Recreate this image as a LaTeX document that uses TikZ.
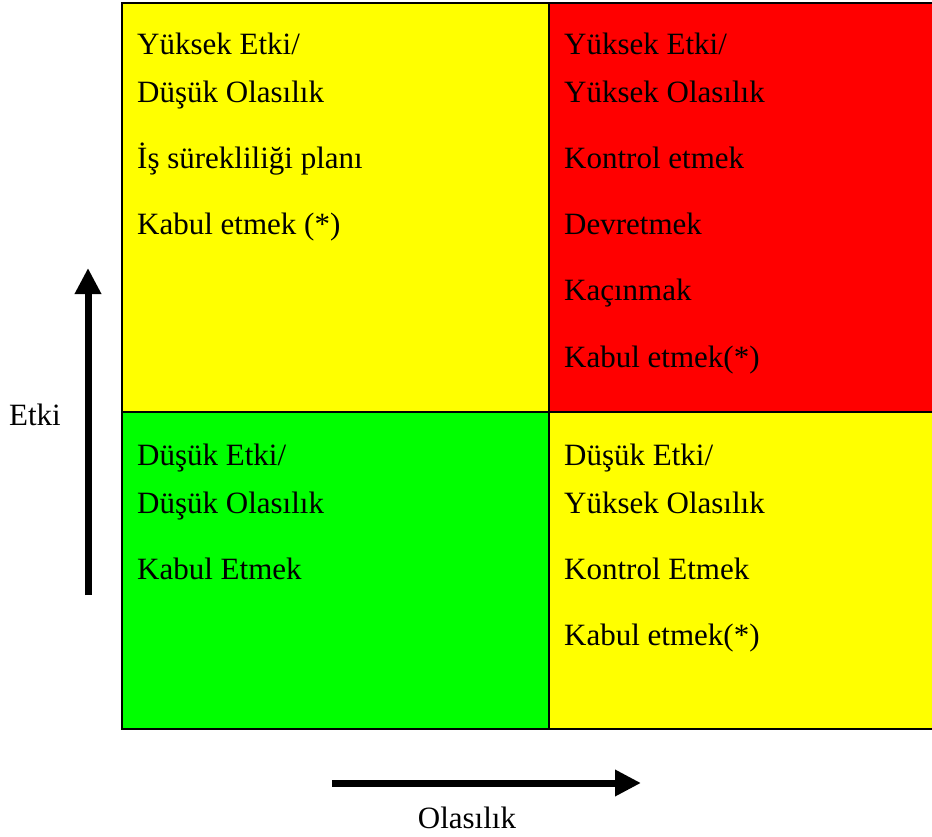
\documentclass[tikz,border=0pt]{standalone}
\usepackage{fontspec}
\setmainfont{Liberation Serif}
\usetikzlibrary{arrows.meta}
\definecolor{riskyellow}{RGB}{255,255,0}
\definecolor{riskred}{RGB}{255,0,0}
\definecolor{riskgreen}{RGB}{0,255,0}
\tikzset{
  cellbox/.style={draw=black, line width=1.5pt},
  celltext/.style={anchor=base west, inner sep=0pt, font=\fontsize{31}{31}\selectfont},
  axislabel/.style={anchor=base, inner sep=0pt, font=\fontsize{31}{31}\selectfont},
  axisarrow/.style={line width=7pt, -{Triangle[length=26pt,width=25pt]}}
}
\begin{document}
\begin{tikzpicture}[x=1pt, y=-1pt]
            \useasboundingbox (0,0) rectangle (932,837);

            % the four cells
            \draw[cellbox, fill=riskyellow] (122,3) rectangle (549,412);
            \draw[cellbox, fill=riskred] (549,3) rectangle (940,412);
            \draw[cellbox, fill=riskgreen] (122,412) rectangle (549,729);
            \draw[cellbox, fill=riskyellow] (549,412) rectangle (940,729);

            % high impact / low probability
            \node[celltext] (hl1) at (137,55) {Yüksek Etki/};
            \node[celltext] (hl2) at (137,103) {Düşük Olasılık};
            \node[celltext] (hl3) at (137,169) {İş sürekliliği planı};
            \node[celltext] (hl4) at (137,235) {Kabul etmek (*)};

            % high impact / high probability
            \node[celltext] (hh1) at (564,55) {Yüksek Etki/};
            \node[celltext] (hh2) at (564,103) {Yüksek Olasılık};
            \node[celltext] (hh3) at (564,169) {Kontrol etmek};
            \node[celltext] (hh4) at (564,235) {Devretmek};
            \node[celltext] (hh5) at (564,301) {Kaçınmak};
            \node[celltext] (hh6) at (564,367) {Kabul etmek(*)};

            % low impact / low probability
            \node[celltext] (ll1) at (137,465) {Düşük Etki/};
            \node[celltext] (ll2) at (137,513) {Düşük Olasılık};
            \node[celltext] (ll3) at (137,579) {Kabul Etmek};

            % low impact / high probability
            \node[celltext] (lh1) at (564,465) {Düşük Etki/};
            \node[celltext] (lh2) at (564,513) {Yüksek Olasılık};
            \node[celltext] (lh3) at (564,579) {Kontrol Etmek};
            \node[celltext] (lh4) at (564,645) {Kabul etmek(*)};

            % axes
            \coordinate (etkitail) at (88,595);
            \coordinate (etkihead) at (88,268);
            \coordinate (olatail) at (332,783);
            \coordinate (olahead) at (641,783);
            \draw[axisarrow] (etkitail) -- (etkihead);
            \draw[axisarrow] (olatail) -- (olahead);

            \node[axislabel] (etki) at (35,425) {Etki};
            \node[axislabel] (olasilik) at (467,828) {Olasılık};
        \end{tikzpicture}
\end{document}
